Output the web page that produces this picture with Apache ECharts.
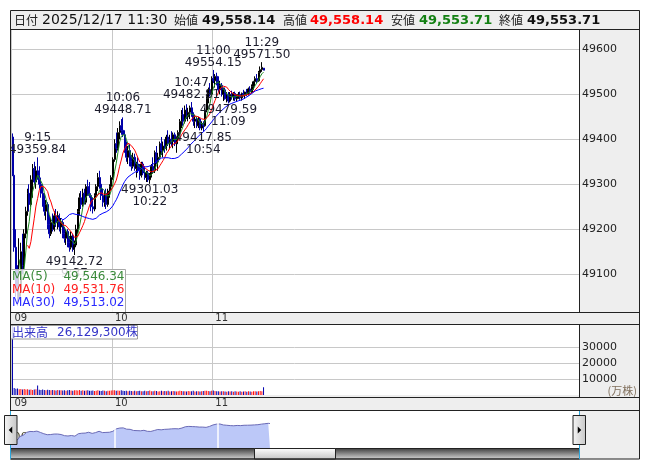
<!DOCTYPE html>
<html><head><meta charset="utf-8">
<script src="https://cdn.jsdelivr.net/npm/echarts@6/dist/echarts.min.js"></script>
<style>html,body{margin:0;padding:0;background:#fff}#c{width:653px;height:470px}</style>
</head><body><div id="c"></div>
<script>
// ---------- data ----------
const times = [];
for (let m = 540; m <= 690; m++) times.push(String(Math.floor(m / 60)).padStart(2, '0') + ':' + String(m % 60).padStart(2, '0'));

const open = [
49405,49320,49160,49070,49050,49060,49150,49120,49190,49240,
49280,49255,49310,49335,49305,49330,49320,49300,49280,49265,
49240,49255,49210,49190,49215,49200,49230,49215,49230,49205,
49215,49190,49180,49195,49170,49160,49185,49155,49165,49200,
49240,49270,49255,49280,49260,49295,49285,49275,49250,49245,
49275,49295,49315,49300,49275,49260,49280,49255,49285,49295,
49315,49355,49390,49380,49415,49430,49420,49410,49380,49360,
49375,49350,49340,49360,49335,49345,49330,49320,49345,49325,
49315,49325,49310,49320,49340,49330,49370,49350,49360,49390,
49375,49385,49380,49405,49390,49400,49395,49410,49390,49400,
49415,49440,49455,49440,49465,49450,49460,49470,49455,49440,
49445,49430,49445,49425,49435,49430,49465,49490,49510,49500,
49535,49530,49540,49525,49510,49520,49500,49510,49490,49500,
49485,49500,49495,49502,49490,49496,49500,49492,49502,49498,
49505,49500,49512,49505,49518,49528,49535,49530,49548,49555,
49558.14];
const high = [
49413,49325,49200,49120,49180,49170,49190,49200,49250,49290,
49300,49320,49345,49350,49340,49359.84,49340,49315,49300,49280,
49265,49260,49230,49225,49235,49240,49245,49240,49235,49225,
49220,49205,49200,49200,49185,49195,49190,49175,49210,49245,
49280,49285,49290,49290,49300,49310,49305,49280,49270,49280,
49300,49325,49330,49310,49290,49285,49290,49290,49300,49320,
49360,49400,49415,49425,49440,49445,49448.71,49420,49395,49385,
49390,49365,49370,49368,49350,49360,49345,49350,49350,49340,
49330,49330,49325,49345,49360,49375,49385,49370,49395,49405,
49395,49400,49410,49420,49410,49418,49415,49415,49405,49420,
49445,49465,49470,49475,49478,49470,49475,49482.81,49460,49455,
49450,49450,49448,49440,49440,49470,49495,49515,49525,49540,
49554.15,49545,49548,49540,49530,49525,49515,49515,49505,49505,
49505,49508,49505,49506,49500,49505,49506,49504,49510,49506,
49512,49515,49518,49522,49530,49540,49545,49552,49562,49571.50,
49558.14];
const low = [
49318,49150,49050,49030,49040,49050,49100,49110,49180,49230,
49240,49250,49270,49300,49290,49310,49290,49270,49250,49230,
49220,49200,49180,49185,49195,49195,49205,49200,49195,49190,
49180,49170,49165,49160,49150,49155,49150,49142.72,49160,49190,
49230,49245,49250,49255,49255,49275,49270,49240,49235,49240,
49260,49285,49290,49265,49250,49250,49245,49250,49270,49290,
49310,49350,49370,49375,49400,49410,49405,49370,49350,49345,
49340,49330,49335,49330,49315,49325,49310,49315,49320,49310,
49305,49305,49301.03,49315,49325,49325,49345,49330,49355,49365,
49360,49370,49375,49385,49378,49385,49380,49385,49370,49390,
49410,49425,49430,49435,49445,49440,49445,49450,49430,49425,
49425,49425,49420,49420,49417.85,49428,49460,49480,49495,49498,
49525,49515,49520,49505,49500,49495,49485,49488,49482,49479.59,
49482,49488,49486,49485,49484,49490,49488,49486,49495,49490,
49496,49497,49500,49503,49510,49518,49525,49528,49540,49550,
49553.71];
const close = [
49325,49160,49070,49050,49060,49150,49120,49190,49240,49280,
49255,49310,49335,49305,49330,49320,49300,49280,49265,49240,
49255,49210,49190,49215,49200,49230,49215,49230,49205,49215,
49190,49180,49195,49170,49160,49185,49155,49165,49200,49240,
49270,49255,49280,49260,49295,49285,49275,49250,49245,49275,
49295,49315,49300,49275,49260,49280,49255,49285,49295,49315,
49355,49390,49380,49415,49430,49420,49410,49380,49360,49375,
49350,49340,49360,49335,49345,49330,49320,49345,49325,49315,
49325,49310,49320,49340,49330,49370,49350,49360,49390,49375,
49385,49380,49405,49390,49400,49395,49410,49390,49400,49415,
49440,49455,49440,49465,49450,49460,49470,49455,49440,49445,
49430,49445,49425,49435,49430,49465,49490,49510,49500,49535,
49530,49540,49525,49510,49520,49500,49510,49490,49500,49485,
49500,49495,49502,49490,49496,49500,49492,49502,49498,49505,
49500,49512,49505,49518,49528,49535,49530,49548,49555,49560,
49553.71];
// volume in 万株
const volume = [
45000,4300,3900,4100,3600,3800,3500,3700,3400,3600,
3300,3500,3200,3400,3600,5900,3300,3100,3400,3200,
3000,3300,3100,2900,3200,3000,2800,3100,2900,3000,
2800,3000,2700,2900,3100,2800,2700,3000,2900,2800,
3100,2700,2900,2600,2800,3000,2700,2600,2800,2500,
2700,2900,2600,2500,2800,2600,2400,2700,2600,2800,
3000,2900,2700,2800,2600,2900,2700,2500,2600,2400,
2700,2500,2300,2600,2400,2500,2700,2300,2400,2600,
2400,2500,2800,2400,2300,2600,2500,2200,2400,2700,
2300,2500,2400,2600,2200,2400,2500,2300,2200,2400,
2600,2500,2300,2400,2200,2500,2300,2400,2600,2200,
2300,2400,2200,2300,2500,2600,2700,2500,2400,2600,
2800,2500,2300,2400,2200,2300,2400,2200,2100,2300,
2200,2400,2100,2300,2200,2000,2300,2100,2200,2400,
2100,2300,2200,2000,2300,2400,2200,2300,2500,2400,
4800];

const priceTicks = [49100, 49200, 49300, 49400, 49500, 49600];
const volumeTicks = [10000, 20000, 30000];
const peakTimes = ['09:15', '10:06', '10:47', '11:00', '11:29'];
const troughTimes = ['09:37', '10:22', '10:54', '11:09'];
const maPeriods = [5, 10, 30];
const maColors = ['#3a8a3a', '#ff2020', '#2828ff'];
const maLegendText = ['49,546.34', '49,531.76', '49,513.02'];
const headerDate = '2025/12/17 11:30';
const volumeText = '26,129,300株';

// ---------- build ----------
const MAIN_SLOTS = 340, NAV_SLOTS = 330;
const mainCats = [''];
times.forEach(t => mainCats.push(t));
while (mainCats.length < MAIN_SLOTS) mainCats.push('p' + mainCats.length);
const navCats = times.slice();
while (navCats.length < NAV_SLOTS) navCats.push('q' + navCats.length);

const candleData = times.map((t, i) => [i + 1, open[i], close[i], low[i], high[i]]);
function ma(n) {
  const out = [];
  for (let i = n - 1; i < close.length; i++) {
    let s = 0; for (let k = i - n + 1; k <= i; k++) s += close[k];
    out.push([i + 1, s / n]);
  }
  return out;
}
const volData = times.map((t, i) => ({
  value: [i + 1, volume[i]],
  itemStyle: { color: close[i] >= open[i] ? '#ff1010' : '#0000b0' }
}));
const navData = times.map((t, i) => [i, close[i]]);

const annot = [];
peakTimes.forEach(t => {
  const i = times.indexOf(t);
  annot.push({ coord: [i + 1, high[i]], label: { position: 'top', distance: 1, formatter: t.replace(/^0/, '') + '\n' + high[i].toFixed(2) } });
});
troughTimes.forEach(t => {
  const i = times.indexOf(t);
  annot.push({ coord: [i + 1, low[i]], label: { position: 'bottom', distance: 0, formatter: low[i].toFixed(2) + '\n' + t.replace(/^0/, '') } });
});

const fmt = v => v.toLocaleString('en-US', { minimumFractionDigits: 2, maximumFractionDigits: 2 });
const last = times.length - 1;
const FONT = "'DejaVu Sans','Noto Sans CJK JP'";
const hourOnly = (idx, val) => /:00$/.test(val);

const chart = echarts.init(document.getElementById('c'), null, { renderer: 'canvas' });
const G = echarts.graphic;

const elements = [];
// outside white margins
[[0, 0, 653, 10], [0, 0, 10, 470], [640, 0, 13, 470], [0, 459.5, 653, 11]].forEach(r =>
  elements.push({ type: 'rect', z: 100, shape: { x: r[0], y: r[1], width: r[2], height: r[3] }, style: { fill: '#fff' } }));
// header texts
const hdrLabels = [['日付', 14], ['始値', 174], ['高値', 283], ['安値', 391], ['終値', 499]];
hdrLabels.forEach(h => elements.push({ type: 'text', z: 101, style: { text: h[0], x: h[1], y: 20.5, fill: '#222', font: "12px 'Noto Sans CJK JP'", verticalAlign: 'middle' } }));
const hdrVals = [[headerDate, 42, '#111', 'normal 14px'], [fmt(open[last]), 202, '#111', 'bold 13px'],
  [fmt(high[last]), 310, '#ff0000', 'bold 13px'], [fmt(low[last]), 419, '#138013', 'bold 13px'], [fmt(close[last]), 527, '#111', 'bold 13px']];
hdrVals.forEach(h => elements.push({ type: 'text', z: 101, style: { text: h[0], x: h[1], y: 20.5, fill: h[2], font: h[3] + " 'DejaVu Sans'", verticalAlign: 'middle' } }));
// MA legend box
elements.push({ type: 'rect', z: 100, shape: { x: 10.5, y: 269.5, width: 115, height: 43 }, style: { fill: 'rgba(255,255,255,0.8)', stroke: '#a8a8a8', lineWidth: 1 } });
maPeriods.forEach((p, k) => {
  const y = 276.5 + k * 13.3;
  elements.push({ type: 'text', z: 101, style: { text: 'MA(' + p + ')', x: 12, y, fill: maColors[k], font: "12px 'DejaVu Sans'", verticalAlign: 'middle' } });
  elements.push({ type: 'text', z: 101, style: { text: maLegendText[k], x: 124.5, y, fill: maColors[k], font: "12px 'DejaVu Sans'", verticalAlign: 'middle', align: 'right' } });
});
// volume box
elements.push({ type: 'rect', z: 100, shape: { x: 10.5, y: 325.5, width: 127, height: 13.5 }, style: { fill: 'rgba(255,255,255,0.85)', stroke: '#9a9a9a', lineWidth: 1 } });
elements.push({ type: 'text', z: 101, style: { text: '出来高', x: 12, y: 332.5, fill: '#3535c8', font: "12px 'Noto Sans CJK JP'", verticalAlign: 'middle' } });
elements.push({ type: 'text', z: 101, style: { text: volumeText, x: 57, y: 332.5, fill: '#3535c8', font: "12px " + FONT, verticalAlign: 'middle' } });
elements.push({ type: 'text', z: 101, style: { text: '(万株)', x: 637, y: 391, fill: '#806f5c', font: "11px 'Noto Sans CJK JP'", verticalAlign: 'middle', align: 'right' } });
// scrollbar
elements.push({ type: 'rect', z: 100, shape: { x: 10.5, y: 448.5, width: 569, height: 10.5 },
  style: { fill: new G.LinearGradient(0, 0, 0, 1, [{ offset: 0, color: '#3a3a3a' }, { offset: 0.5, color: '#8a8a8a' }, { offset: 1, color: '#d8d8d8' }]), stroke: '#222', lineWidth: 1 } });
elements.push({ type: 'rect', z: 101, shape: { x: 254.5, y: 448.5, width: 81, height: 10.5 },
  style: { fill: new G.LinearGradient(0, 0, 0, 1, [{ offset: 0, color: '#ffffff' }, { offset: 1, color: '#c4c4c4' }]), stroke: '#222', lineWidth: 1 } });
// frame lines
const lines = [[10, 29.5, 640, 29.5], [10, 312.5, 640, 312.5], [10, 324.5, 640, 324.5], [10, 397.5, 640, 397.5], [10, 410.5, 640, 410.5],
  [579.5, 29.5, 579.5, 312.5], [579.5, 324.5, 579.5, 397.5]];
lines.forEach(l => elements.push({ type: 'line', z: 102, shape: { x1: l[0], y1: l[1], x2: l[2], y2: l[3] }, style: { stroke: '#222', lineWidth: 1 } }));
elements.push({ type: 'rect', z: 102, shape: { x: 10.5, y: 10.5, width: 629, height: 448.5 }, style: { fill: 'none', stroke: '#222', lineWidth: 1 } });
// navigator cyan edges and handles
[10.5, 579.5].forEach(x => elements.push({ type: 'line', z: 103, shape: { x1: x, y1: 411, x2: x, y2: 459 }, style: { stroke: '#2aa6dc', lineWidth: 1 } }));
[[4.5, 'L'], [573, 'R']].forEach(h => {
  elements.push({ type: 'rect', z: 104, shape: { x: h[0], y: 415.5, width: 12.5, height: 29 },
    style: { fill: new G.LinearGradient(0, 0, 1, 0, [{ offset: 0, color: '#f6f6f6' }, { offset: 1, color: '#c6c6c6' }]), stroke: '#222', lineWidth: 1 } });
  const cx = h[0] + 6.25;
  const pts = h[1] === 'L' ? [[cx - 2, 430], [cx + 1.5, 426.5], [cx + 1.5, 433.5]] : [[cx + 2, 430], [cx - 1.5, 426.5], [cx - 1.5, 433.5]];
  elements.push({ type: 'polygon', z: 105, shape: { points: pts }, style: { fill: '#000' } });
});

const option = {
  animation: false,
  backgroundColor: '#eeeeee',
  textStyle: { fontFamily: FONT },
  grid: [
    { left: 10, top: 30, width: 569, height: 282, show: true, backgroundColor: '#fff', borderWidth: 0 },
    { left: 10, top: 325, width: 569, height: 70, show: true, backgroundColor: '#fff', borderWidth: 0 },
    { left: 11, top: 411, width: 568, height: 37, show: true, backgroundColor: '#fff', borderWidth: 0 }
  ],
  xAxis: [
    { type: 'category', gridIndex: 0, data: mainCats, boundaryGap: true,
      axisLine: { show: false }, axisTick: { show: false },
      axisLabel: { interval: hourOnly, formatter: v => v.slice(0, 2), align: 'left', padding: [0, 0, 0, 2], margin: 1, fontSize: 10, color: '#333' },
      splitLine: { show: true, interval: hourOnly, lineStyle: { color: '#c8c8c8', width: 1 } } },
    { type: 'category', gridIndex: 1, data: mainCats, boundaryGap: true,
      axisLine: { show: false }, axisTick: { show: false },
      axisLabel: { interval: hourOnly, formatter: v => v.slice(0, 2), align: 'left', padding: [0, 0, 0, 2], margin: 3, fontSize: 10, color: '#333' },
      splitLine: { show: true, interval: hourOnly, lineStyle: { color: '#c8c8c8', width: 1 } } },
    { type: 'category', gridIndex: 2, data: navCats, boundaryGap: false,
      axisLine: { show: false }, axisTick: { show: false }, splitLine: { show: false },
      axisLabel: { inside: true, interval: hourOnly, formatter: v => v.slice(0, 2), align: 'left', padding: [0, 0, 0, 2], margin: 3, fontSize: 12, color: '#4d4a30', fontFamily: "'DejaVu Serif','Liberation Serif'" } }
  ],
  yAxis: [
    { type: 'value', gridIndex: 0, position: 'right', min: 49016, max: 49643, scale: true,
      axisLine: { show: false }, axisTick: { show: false, customValues: priceTicks },
      axisLabel: { customValues: priceTicks, formatter: v => String(v), margin: 3, fontSize: 11, color: '#222' },
      splitLine: { show: true, lineStyle: { color: '#c8c8c8', width: 1 } } },
    { type: 'value', gridIndex: 1, position: 'right', min: 0, max: 43750,
      axisLine: { show: false }, axisTick: { show: false, customValues: volumeTicks },
      axisLabel: { customValues: volumeTicks, formatter: v => String(v), margin: 3, fontSize: 11, color: '#222' },
      splitLine: { show: true, lineStyle: { color: '#c8c8c8', width: 1 } } },
    { type: 'value', gridIndex: 2, min: 48800, max: 49940, show: false }
  ],
  series: [
    { type: 'candlestick', xAxisIndex: 0, yAxisIndex: 0, data: candleData, encode: { x: 0, y: [1, 2, 3, 4] },
      barWidth: 1.5,
      itemStyle: { color: '#ffffff', color0: '#0000a8', borderColor: '#000000', borderColor0: '#0000a8', borderWidth: 1 },
      markPoint: { silent: true, symbol: 'circle', symbolSize: 1, itemStyle: { color: 'rgba(0,0,0,0)' },
        label: { show: true, fontSize: 12, lineHeight: 12, color: '#1c1c2c', fontFamily: 'DejaVu Sans' }, data: annot } },
    ...maPeriods.map((p, k) => ({ type: 'line', xAxisIndex: 0, yAxisIndex: 0, data: ma(p), symbol: 'none', silent: true,
      lineStyle: { color: ['#1f8a1f', '#ff0000', '#0000ff'][k], width: 1 } })),
    { type: 'bar', xAxisIndex: 1, yAxisIndex: 1, data: volData, barWidth: 1, silent: true },
    { type: 'line', xAxisIndex: 2, yAxisIndex: 2, data: navData, symbol: 'none', silent: true,
      lineStyle: { color: '#6a6ab6', width: 1 }, areaStyle: { color: '#bcc8f8', opacity: 1 },
      markLine: { silent: true, symbol: ['none', 'none'], label: { show: false }, lineStyle: { color: '#ffffff', width: 1.5, type: 'solid' },
        data: [{ xAxis: '10:00' }, { xAxis: '11:00' }] } }
  ],
  graphic: { elements }
};
chart.setOption(option);
</script>
</body></html>
